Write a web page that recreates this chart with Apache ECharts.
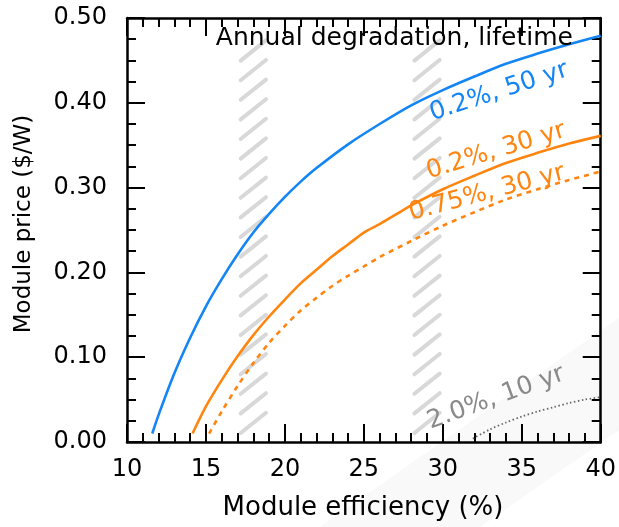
<!DOCTYPE html>
<html>
<head>
<meta charset="utf-8">
<script src="https://cdn.jsdelivr.net/npm/echarts@6/dist/echarts.min.js"></script>
<style>
html,body{margin:0;padding:0;background:#fff;}
#chart{width:619px;height:527px;}
</style>
</head>
<body>
<div id="chart"></div>
<script>
// ---- data (module efficiency %, module price $/W) ----
const xTicks = [10, 15, 20, 25, 30, 35, 40];
const yTicks = [0.00, 0.10, 0.20, 0.30, 0.40, 0.50];

const deg02_50yr = [[11.6,0.01],[12,0.032],[13,0.081],[14,0.123],[15,0.16],[16,0.192],[17,0.221],[18,0.247],[19,0.269],[20,0.289],[21,0.307],[22,0.323],[24,0.351],[26,0.375],[28,0.397],[30,0.415],[32,0.431],[34,0.446],[36,0.458],[38,0.469],[40,0.479]];
const deg02_30yr = [[14.15,0.01],[15,0.042],[16,0.073],[17,0.101],[18,0.126],[19,0.148],[20,0.168],[21,0.187],[22,0.203],[23,0.219],[24,0.233],[25,0.247],[26,0.257],[27,0.268],[28,0.279],[30,0.298],[32,0.314],[34,0.329],[36,0.341],[38,0.352],[40,0.361]];
const deg075_30yr = [[15.2,0.01],[16,0.036],[17,0.066],[18,0.093],[19,0.117],[20,0.137],[21,0.155],[22,0.17],[23,0.184],[24,0.196],[25,0.207],[26,0.218],[28,0.237],[30,0.255],[32,0.271],[34,0.286],[36,0.298],[38,0.309],[40,0.319]];
const deg20_10yr = [[31.9,0.004],[33,0.015],[34,0.023],[35,0.03],[36,0.036],[37,0.041],[38,0.046],[39,0.05],[40,0.053]];

// hatched efficiency bands (%)
const bands = [[17.2, 18.8], [28.2, 29.8]];

// curve labels: text, anchor [eff, price], rotation (deg)
const labelTexts = ['0.2%, 50 yr', '0.2%, 30 yr', '0.75%, 30 yr', '2.0%, 10 yr'];
const labelAnchors = [[33.56, 0.413], [33.37, 0.343], [32.8, 0.2936], [33.37, 0.052]];
const labelRot = [18, 17, 15, 20];
const titleText = 'Annual degradation, lifetime';
const titleAnchor = [26.93, 0.4764];

const BLUE = '#1485f5', ORANGE = '#ff8511', GRAY = '#8a8a8a';
const labelColors = [BLUE, ORANGE, ORANGE, GRAY];
const FONT = 'DejaVu Sans';

const chart = echarts.init(document.getElementById('chart'));

function xAxisDef(pos, showLabel) {
  return {
    type: 'value', min: 10, max: 40, interval: 5, position: pos,
    axisLine: {show: true, onZero: false, lineStyle: {color: '#000', width: 2.5}},
    axisTick: {show: true, inside: true, length: 18, lineStyle: {color: '#000', width: 2}},
    minorTick: {show: true, splitNumber: 5, length: 9, lineStyle: {color: '#000', width: 2}},
    axisLabel: {show: showLabel, fontSize: 24, fontFamily: FONT, color: '#000', margin: 16},
    splitLine: {show: false}, minorSplitLine: {show: false}
  };
}
function yAxisDef(pos, showLabel) {
  return {
    type: 'value', min: 0, max: 0.5, interval: 0.1, position: pos,
    axisLine: {show: true, onZero: false, lineStyle: {color: '#000', width: 2.5}},
    axisTick: {show: true, inside: true, length: 18, lineStyle: {color: '#000', width: 2}},
    minorTick: {show: true, splitNumber: 4, length: 9, lineStyle: {color: '#000', width: 2}},
    axisLabel: {show: showLabel, fontSize: 24, fontFamily: FONT, color: '#000', margin: 20,
      formatter: v => v.toFixed(2)},
    splitLine: {show: false}, minorSplitLine: {show: false}
  };
}

function lineSeries(data, color, type, width) {
  return {
    type: 'line', data: data, xAxisIndex: 0, yAxisIndex: 0,
    showSymbol: false, symbol: 'none', smooth: 0.3, z: 5,
    lineStyle: {color: color, width: width, type: type}
  };
}

chart.setOption({
  animation: false,
  backgroundColor: '#fff',
  grid: {left: 127, right: 17, top: 18, bottom: 85},
  xAxis: [xAxisDef('bottom', true), xAxisDef('top', false)],
  yAxis: [yAxisDef('left', true), yAxisDef('right', false)],
  series: [
    {
      type: 'custom', xAxisIndex: 0, yAxisIndex: 0, silent: true, z: 1,
      data: bands.map(b => [b[0], b[1], 0]),
      encode: {x: [0, 1], y: 2},
      renderItem: function (params, api) {
        const xl = api.coord([api.value(0), 0])[0];
        const xr = api.coord([api.value(1), 0])[0];
        const bottom = api.coord([10, 0])[1];
        const top = api.coord([10, 0.5])[1];
        const rise = (xr - xl) * 0.8;
        const children = [];
        for (let yl = bottom - 9; yl - rise >= top + 21; yl -= 19.6) {
          children.push({type: 'line', shape: {x1: xl, y1: yl, x2: xr, y2: yl - rise},
            style: {stroke: '#d8d8d8', lineWidth: 4, lineCap: 'round'}});
        }
        return {type: 'group', children: children};
      }
    },
    lineSeries(deg02_50yr, BLUE, 'solid', 2.6),
    lineSeries(deg02_30yr, ORANGE, 'solid', 2.6),
    lineSeries(deg075_30yr, ORANGE, [5, 5], 2.6),
    lineSeries(deg20_10yr, '#666', [1.5, 2.5], 1.8)
  ]
});

// text annotations placed via the axes' own scales
const graphics = [
  {type: 'polygon', z: -10, silent: true,
   shape: {points: [[320, 527], [619, 318], [619, 430], [480, 527]]},
   style: {fill: '#f9f9f9'}}
];
const tp = chart.convertToPixel({gridIndex: 0}, titleAnchor);
graphics.push({type: 'text', x: tp[0], y: tp[1], z: 10,
  style: {text: titleText, fontSize: 25, fontFamily: FONT, fill: '#000', align: 'center', verticalAlign: 'middle'}});
labelTexts.forEach((t, i) => {
  const p = chart.convertToPixel({gridIndex: 0}, labelAnchors[i]);
  graphics.push({type: 'text', x: p[0], y: p[1], rotation: labelRot[i] * Math.PI / 180, z: 10,
    style: {text: t, fontSize: 25, fontFamily: FONT, fill: labelColors[i], align: 'center', verticalAlign: 'middle'}});
});
// axis titles
graphics.push({type: 'text', x: 363, y: 508, z: 10,
  style: {text: 'Module efficiency (%)', fontSize: 26, fontFamily: FONT, fill: '#000', align: 'center', verticalAlign: 'middle'}});
graphics.push({type: 'text', x: 24, y: 224, rotation: Math.PI / 2, z: 10,
  style: {text: 'Module price ($/W)', fontSize: 23, fontFamily: FONT, fill: '#000', align: 'center', verticalAlign: 'middle'}});

chart.setOption({graphic: graphics});
</script>
</body>
</html>
